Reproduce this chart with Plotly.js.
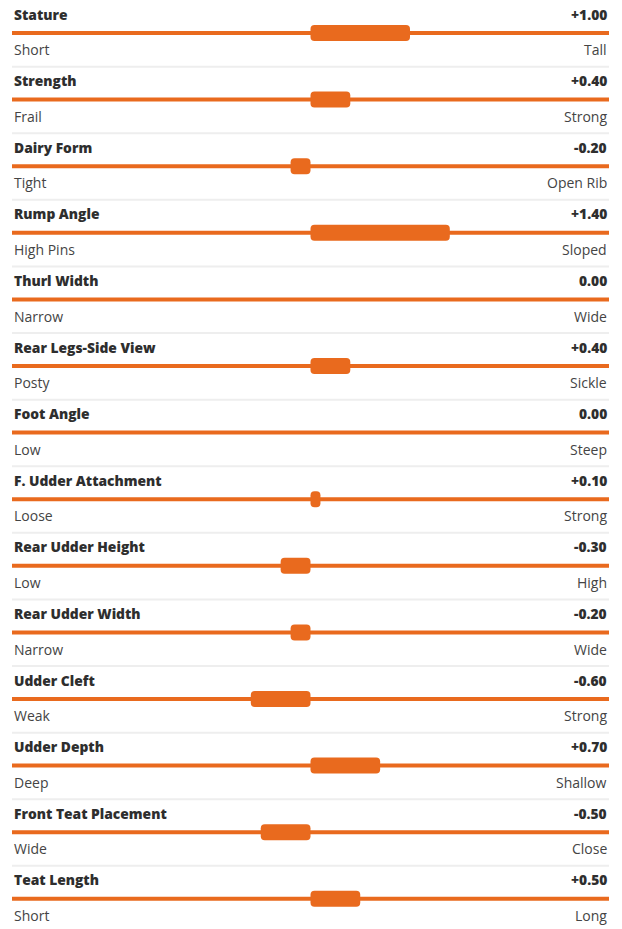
<!DOCTYPE html>
<html>
<head>
<meta charset="utf-8">
<script src="https://cdn.plot.ly/plotly-3.0.1.min.js"></script>
<style>html,body{margin:0;padding:0;background:#fff;}#chart{width:622px;height:929px;}</style>
</head>
<body>
<div id="chart"></div>
<script>
const traits = ["Stature","Strength","Dairy Form","Rump Angle","Thurl Width","Rear Legs-Side View","Foot Angle","F. Udder Attachment","Rear Udder Height","Rear Udder Width","Udder Cleft","Udder Depth","Front Teat Placement","Teat Length"];
const values = [1.00, 0.40, -0.20, 1.40, 0.00, 0.40, 0.00, 0.10, -0.30, -0.20, -0.60, 0.70, -0.50, 0.50];
const lowLabels = ["Short","Frail","Tight","High Pins","Narrow","Posty","Low","Loose","Low","Narrow","Weak","Deep","Wide","Short"];
const highLabels = ["Tall","Strong","Open Rib","Sloped","Wide","Sickle","Steep","Strong","High","Wide","Strong","Shallow","Close","Long"];
const scaleMin = -3, scaleMax = 3;

const ORANGE = "#e96a1e";
const rows = traits.map((_, i) => i);
const rowPx = 66.6;

function fmt(v) {
  if (v === 0) return "0.00";
  return (v > 0 ? "+" : "") + v.toFixed(2);
}

const track = {
  type: "bar", orientation: "h",
  y: rows, x: rows.map(() => scaleMax - scaleMin), base: rows.map(() => scaleMin),
  width: 4 / rowPx, marker: {color: ORANGE, line: {width: 0}},
  hoverinfo: "skip", showlegend: false
};
const bars = {
  type: "bar", orientation: "h",
  y: rows, x: values, base: rows.map(() => 0),
  width: 16 / rowPx, marker: {color: ORANGE, line: {width: 0}, cornerradius: 4},
  hoverinfo: "skip", showlegend: false
};

const annotations = [];
const shapes = [];
const titleFont = {family: "Open Sans, sans-serif", size: 13.8, color: "#2e2e2e", weight: 800};
const labelFont = {family: "Open Sans, sans-serif", size: 14, color: "#444444"};
rows.forEach(i => {
  annotations.push({x: scaleMin, y: i - 0.285, xref: "x", yref: "y", text: traits[i], showarrow: false, xanchor: "left", yanchor: "middle", font: titleFont});
  annotations.push({x: scaleMax, y: i - 0.285, xref: "x", yref: "y", text: fmt(values[i]), showarrow: false, xanchor: "right", yanchor: "middle", font: titleFont});
  annotations.push({x: scaleMin, y: i + 0.25, xref: "x", yref: "y", text: lowLabels[i], showarrow: false, xanchor: "left", yanchor: "middle", font: labelFont});
  annotations.push({x: scaleMax, y: i + 0.25, xref: "x", yref: "y", text: highLabels[i], showarrow: false, xanchor: "right", yanchor: "middle", font: labelFont});
  if (i < rows.length - 1) {
    shapes.push({type: "line", xref: "x", yref: "y", x0: scaleMin, x1: scaleMax, y0: i + 0.505, y1: i + 0.505, line: {color: "#eeeeee", width: 2}, layer: "below"});
  }
});

const yTop = -33 / rowPx;
const yBottom = (929 - 33) / rowPx;

const layout = {
  width: 622, height: 929,
  margin: {l: 12, r: 13, t: 0, b: 0, pad: 0},
  paper_bgcolor: "#ffffff", plot_bgcolor: "#ffffff",
  barmode: "overlay",
  xaxis: {range: [scaleMin, scaleMax], visible: false, fixedrange: true},
  yaxis: {range: [yBottom, yTop], visible: false, fixedrange: true},
  annotations: annotations,
  shapes: shapes,
  showlegend: false
};

Plotly.newPlot("chart", [track, bars], layout, {staticPlot: true, displayModeBar: false});
</script>
</body>
</html>
